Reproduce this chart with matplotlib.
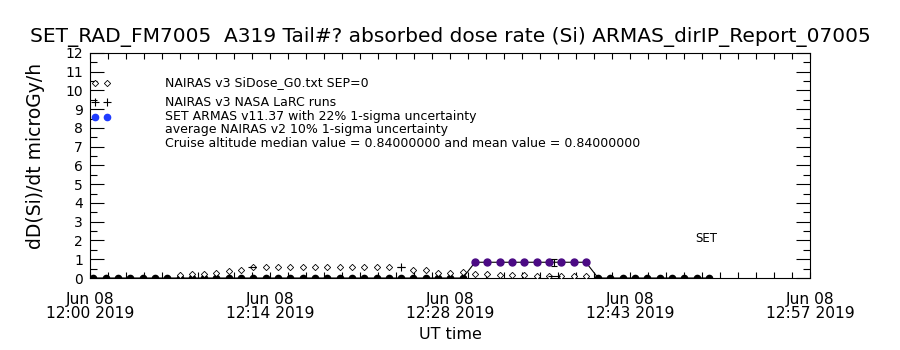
import numpy as np
import matplotlib
matplotlib.use("Agg")
import matplotlib.pyplot as plt
from matplotlib.ticker import FixedLocator, MultipleLocator

# ---- data (time in seconds after 12:00:00 UT, 2019-06-08) ----
times = [16, 75, 134, 193, 252, 311, 370, 429, 488, 547, 606, 665, 724, 783, 842,
         901, 960, 1019, 1078, 1137, 1196, 1255, 1314, 1373, 1432, 1491, 1550, 1609,
         1668, 1727, 1786, 1845, 1904, 1963, 2022, 2081, 2140, 2199, 2258, 2317, 2376,
         2435, 2494, 2553, 2612, 2671, 2730, 2789, 2848, 2907, 2966]

set_armas = [0, 0, 0, 0, 0, 0, 0, 0, 0, 0, 0, 0, 0, 0, 0, 0, 0, 0, 0, 0, 0, 0, 0, 0,
             0, 0, 0, 0, 0, 0, 0, 0.84, 0.84, 0.84, 0.84, 0.84, 0.84, 0.84, 0.84, 0.84,
             0.84, 0, 0, 0, 0, 0, 0, 0, 0, 0, 0]

nairas_v3_times = times[7:41]
nairas_v3 = [0.16, 0.21, 0.21, 0.28, 0.40, 0.45, 0.57, 0.60, 0.60, 0.60, 0.60, 0.60,
             0.60, 0.60, 0.60, 0.60, 0.60, 0.60, np.nan, 0.43, 0.43, 0.28, 0.28, 0.33,
             0.21, 0.21, 0.16, 0.16, 0.16, 0.11, 0.11, 0.11, 0.11, 0.11]

larc_times = [1491]
larc_values = [0.60]

set_err_time = [2223]
set_err_value = [0.84]
set_err = [0.185]

v2_err_times = [776, 1491, 2223]
v2_err_values = [0.60, 0.60, 0.11]
v2_err_half = [18, 18, 28]

xtick_labels = ["Jun 08\n12:00 2019", "Jun 08\n12:14 2019", "Jun 08\n12:28 2019",
                "Jun 08\n12:43 2019", "Jun 08\n12:57 2019"]
x_end = 3450

legend_texts = ["NAIRAS v3 SiDose_G0.txt SEP=0",
                "NAIRAS v3 NASA LaRC runs",
                "SET ARMAS v11.37 with 22% 1-sigma uncertainty",
                "average NAIRAS v2 10% 1-sigma uncertainty",
                "Cruise altitude median value = 0.84000000 and mean value = 0.84000000"]

title = "SET_RAD_FM7005  A319 Tail#? absorbed dose rate (Si) ARMAS_dirIP_Report_07005"

# ---- figure ----
plt.rcParams['font.family'] = ['DejaVu Sans']
fig = plt.figure(figsize=(9, 3.5), dpi=100)
ax = fig.add_axes([0.1, 0.2057, 0.8, 0.643])
lw = 0.8

# SET ARMAS line + markers
ax.plot(times, set_armas, color='black', lw=lw, zorder=3)
t_arr = np.array(times); s_arr = np.array(set_armas)
ax.plot(t_arr[s_arr == 0], s_arr[s_arr == 0], 'o', color='black', ms=4.5, zorder=4)
ax.plot(t_arr[s_arr > 0], s_arr[s_arr > 0], 'o', color='#4b0a84', mec='#4b0a84', ms=5, zorder=5)
ax.errorbar(set_err_time, set_err_value, yerr=set_err, fmt='none', ecolor='black',
            elinewidth=lw, capsize=2.5, capthick=lw, zorder=6)

# NAIRAS v3 diamonds
ax.plot(nairas_v3_times, nairas_v3, 'D', mfc='white', mec='black', mew=0.6, ms=3.2,
        ls='none', zorder=4)
# LaRC plus
ax.plot(larc_times, larc_values, '+', color='black', ms=6, mew=0.8, zorder=5)
# NAIRAS v2 horizontal uncertainty
ax.errorbar(v2_err_times, v2_err_values, xerr=v2_err_half, fmt='none', ecolor='black',
            elinewidth=lw, capsize=0, zorder=5)

ax.set_xlim(0, x_end)
ax.set_ylim(0, 12)
ax.xaxis.set_major_locator(FixedLocator(np.linspace(0, x_end, 5)))
ax.xaxis.set_minor_locator(FixedLocator(np.linspace(0, x_end, 41)))
ax.set_xticklabels(xtick_labels, fontsize=11.2, linespacing=0.95)
ax.yaxis.set_major_locator(MultipleLocator(1))
ax.yaxis.set_minor_locator(MultipleLocator(0.5))
ax.tick_params(axis='y', which='major', direction='in', length=10, width=0.8,
               left=True, right=True, labelsize=10, pad=5)
ax.tick_params(axis='y', which='minor', direction='in', length=5, width=0.8,
               left=True, right=True)
ax.tick_params(axis='x', which='major', direction='in', length=4, width=0.8,
               top=True, bottom=True, labelsize=11.2, pad=10)
ax.tick_params(axis='x', which='minor', direction='in', length=4, width=0.8,
               top=True, bottom=True)
for sp in ax.spines.values():
    sp.set_linewidth(0.8)

ax.set_xlabel("UT time", fontsize=11.5, labelpad=4)
ax.set_ylabel("dD(Si)/dt microGy/h", fontsize=13.5)
ax.yaxis.set_label_coords(-0.0625, 0.542)
fig.text(0.5, 0.893, title, ha='center', va='center', fontsize=14.5)

# legend (manual, in axes fraction)
ly = [0.867, 0.782, 0.716, 0.662, 0.596]
ax.plot([0.007, 0.024], [ly[0], ly[0]], 'D', mfc='white', mec='black', mew=0.6, ms=3.2,
        transform=ax.transAxes, clip_on=False)
ax.plot([0.007, 0.024], [ly[1], ly[1]], '+', color='black', ms=6, mew=0.8,
        transform=ax.transAxes, clip_on=False)
ax.plot([0.007, 0.024], [ly[2], ly[2]], 'o', color='#1f3cff', ms=4.5,
        transform=ax.transAxes, clip_on=False)
for y, t in zip(ly, legend_texts):
    ax.text(0.104, y, t, transform=ax.transAxes, fontsize=9, va='center', ha='left')

ax.text(2899, 2.1, "SET", fontsize=8.5, ha='left', va='center')

fig.savefig("out.png", dpi=100)
